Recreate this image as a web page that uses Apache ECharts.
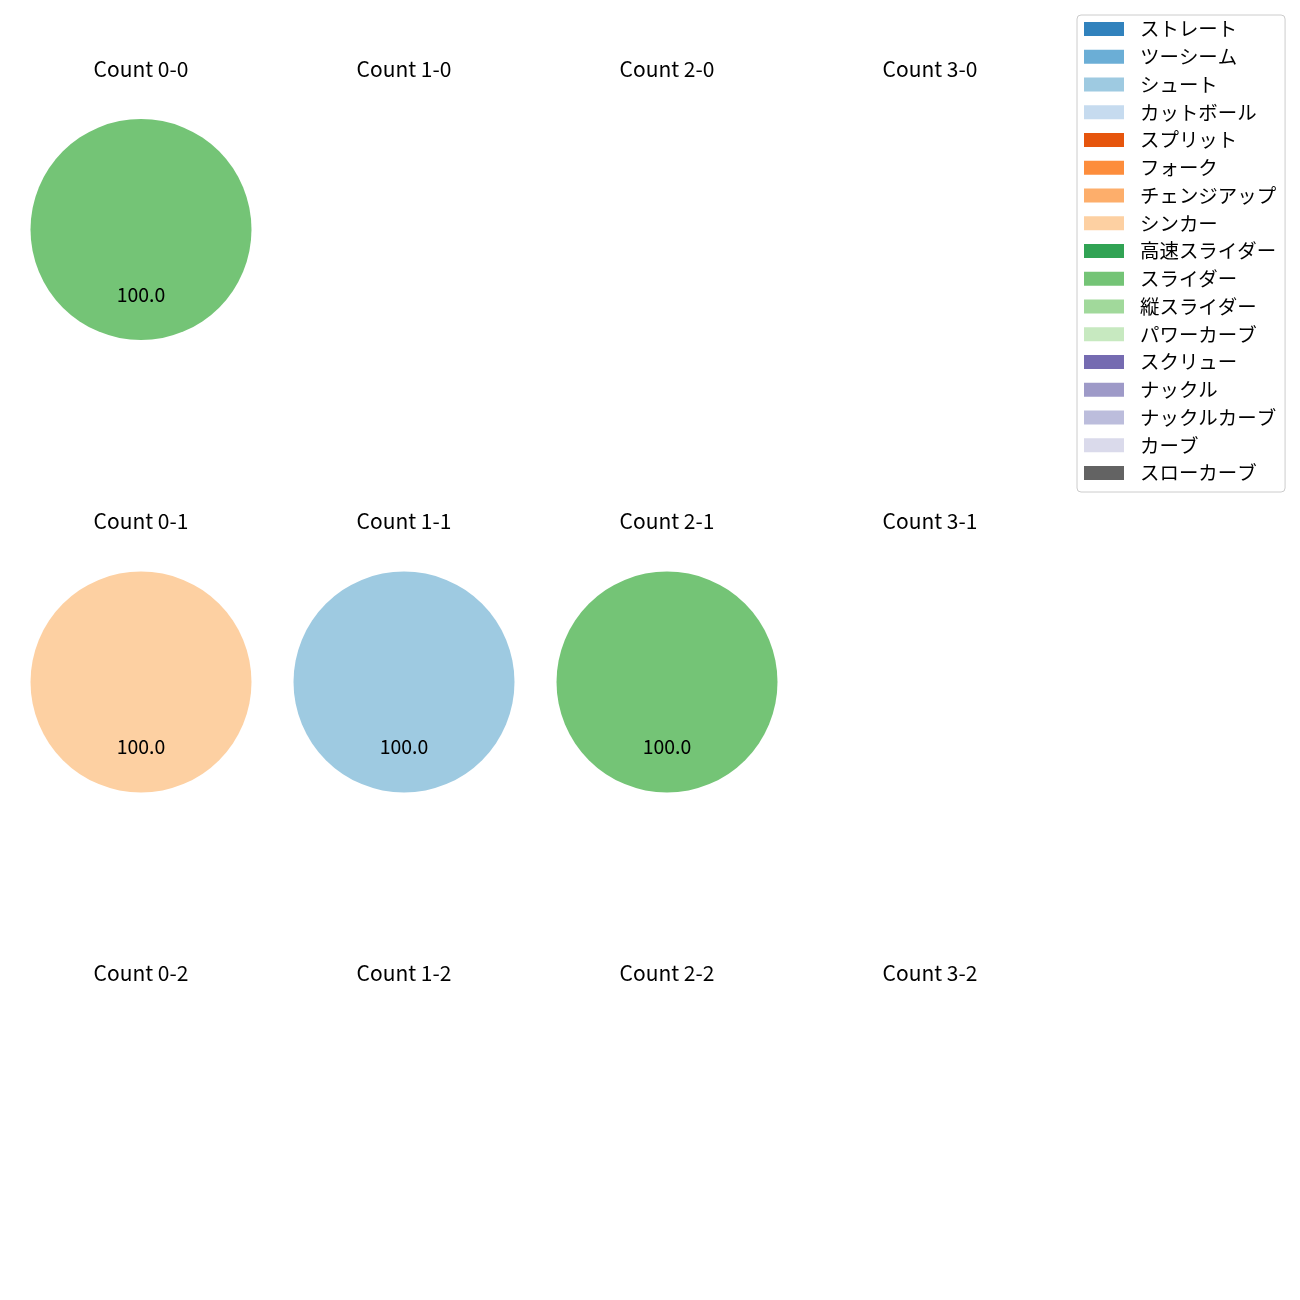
<!DOCTYPE html>
<html><head><meta charset="utf-8">
<script src="https://cdn.jsdelivr.net/npm/echarts@6/dist/echarts.min.js"></script>
<style>html,body{margin:0;padding:0;background:#fff}#c{width:1300px;height:1300px}</style>
</head><body><div id="c"></div>
<script>
const categories = ['ストレート','ツーシーム','シュート','カットボール','スプリット','フォーク','チェンジアップ','シンカー','高速スライダー','スライダー','縦スライダー','パワーカーブ','スクリュー','ナックル','ナックルカーブ','カーブ','スローカーブ'];
const colors = ['#3182bd','#6baed6','#9ecae1','#c6dbef','#e6550d','#fd8d3c','#fdae6b','#fdd0a2','#31a354','#74c476','#a1d99b','#c7e9c0','#756bb1','#9e9ac8','#bcbddc','#dadaeb','#636363'];
const panelTitles = ['Count 0-0','Count 1-0','Count 2-0','Count 3-0','Count 0-1','Count 1-1','Count 2-1','Count 3-1','Count 0-2','Count 1-2','Count 2-2','Count 3-2'];
// percentage per category for each panel (panels without pitches are empty)
const count00 = {'スライダー':100.0};
const count01 = {'シンカー':100.0};
const count11 = {'シュート':100.0};
const count21 = {'スライダー':100.0};
const panelData = {'Count 0-0':count00,'Count 0-1':count01,'Count 1-1':count11,'Count 2-1':count21};

const FONT = '"Noto Sans CJK JP", "Noto Sans", sans-serif';
const colX = [141, 404, 667, 930];
const rowY = [229.5, 682, 1134];
const titleY = [69, 521, 973];
const R = 110.5;
const TFS = 21;

const titles = [];
const series = [];
panelTitles.forEach((t, i) => {
  const c = i % 4, r = Math.floor(i / 4);
  titles.push({text: t, left: colX[c], top: titleY[r] - TFS / 2, textAlign: 'center', padding: 0,
    textStyle: {fontFamily: FONT, fontSize: TFS, lineHeight: TFS, fontWeight: 'normal', color: '#000'}});
  const d = panelData[t];
  if (!d) return;
  const vals = categories.map(n => d[n] || 0);
  series.push({
    type: 'pie', center: [colX[c], rowY[r]], radius: [0, R],
    startAngle: 90, clockwise: true, animation: false, silent: true,
    label: {show: false}, labelLine: {show: false},
    data: categories.map((n, k) => ({name: n, value: vals[k], itemStyle: {color: colors[k]}}))
  });
  series.push({
    type: 'pie', center: [colX[c], rowY[r]], radius: [0, R * 1.12],
    startAngle: 90, clockwise: true, animation: false, silent: true, legendHoverLink: false,
    itemStyle: {color: 'rgba(0,0,0,0)'},
    label: {show: true, position: 'inside', fontFamily: FONT, fontSize: 19.44, color: '#000',
      formatter: p => p.value > 0 ? p.value.toFixed(1) : ''},
    labelLine: {show: false},
    data: categories.map((n, k) => ({name: n, value: vals[k], label: {show: vals[k] > 0}}))
  });
});

const chart = echarts.init(document.getElementById('c'), null, {renderer: 'canvas'});
chart.setOption({
  backgroundColor: '#fff',
  animation: false,
  title: titles,
  legend: {
    data: categories, orient: 'vertical', left: 1077, top: 15,
    icon: 'rect', itemWidth: 40, itemHeight: 14, itemGap: 7.75,
    padding: [4, 9, 9, 7],
    backgroundColor: '#fff', borderColor: '#cccccc', borderWidth: 1, borderRadius: 4,
    selectedMode: false,
    textStyle: {fontFamily: FONT, fontSize: 19.44, color: '#000', lineHeight: 20, padding: [0, 0, 0, 11]}
  },
  series: series
});
</script></body></html>
